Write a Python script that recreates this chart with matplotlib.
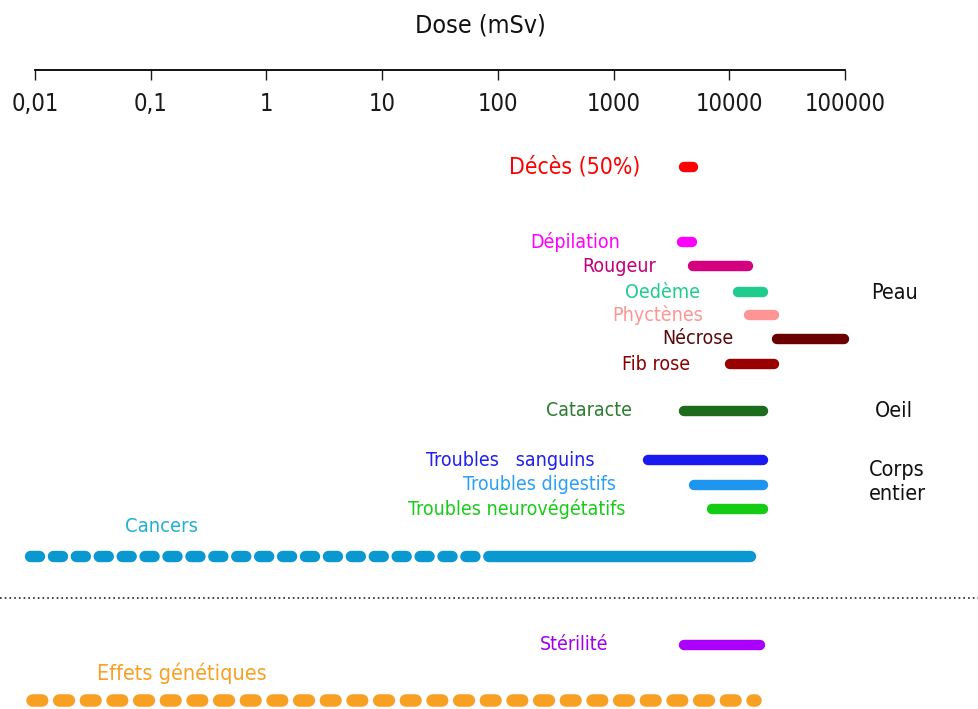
import matplotlib
matplotlib.use("Agg")
import matplotlib.pyplot as plt

plt.rcParams['font.family'] = ['DejaVu Sans']
plt.rcParams['font.stretch'] = 'condensed'
plt.rcParams['lines.scale_dashes'] = False

# ---------------- data ----------------
tick_values = [0.01, 0.1, 1, 10, 100, 1000, 10000, 100000]
tick_labels = ["0,01", "0,1", "1", "10", "100", "1000", "10000", "100000"]

effects = ["Décès (50%)", "Dépilation", "Rougeur", "Oedème", "Phyctènes",
           "Nécrose", "Fib rose", "Cataracte", "Troubles   sanguins",
           "Troubles digestifs", "Troubles neurovégétatifs", "Stérilité"]
dose_min = [4100, 3900, 4850, 11900, 14800, 26000, 10100, 4100, 2000, 5000, 7100, 4100]
dose_max = [4900, 4800, 14600, 19700, 24500, 99000, 24500, 19700, 19700, 19700, 19700, 18500]

cancer_uncertain = [0.009, 100]
cancer_certain = [100, 15200]
genetic_range = [0.0095, 16800]

groups = ["Peau", "Oeil", "Corps\nentier"]

# ---------------- styles / layout ----------------
W, H = 979, 709
bar_colors = ["#FF0000", "#FF00FF", "#D4007F", "#1FCC8E", "#FF9494",
              "#6B0000", "#990000", "#1D6B1D", "#1A1AF0", "#1E96F0",
              "#14CC14", "#AA00FF"]
text_colors = ["#FF0000", "#FF00FF", "#C2007A", "#1FCC8E", "#FF9494",
               "#5A0A0A", "#8B0000", "#2E7D32", "#2020F0", "#2CA0F5",
               "#1ACC1A", "#A000F0"]
row_y = [167, 242, 266, 292, 315, 339, 364, 411, 460, 485, 509, 645]
label_right = [640, 620, 656, 700, 703, 733, 690, 632, 595, 616, 625, 608]
label_size = [16.5, 14, 14, 14, 14, 14, 14, 14, 14, 14, 14, 14]
group_xy = [(895, 293), (894, 411), (897, 482)]

fig = plt.figure(figsize=(W / 100, H / 100), dpi=100)

x0, x1 = 35, 845
# scale axis (line at top with ticks and labels below)
sax = fig.add_axes([x0 / W, 1 - 70 / H, (x1 - x0) / W, 0.0001])
sax.set_xscale('log')
sax.set_xlim(tick_values[0], tick_values[-1])
for s in ['top', 'left', 'right']:
    sax.spines[s].set_visible(False)
sax.spines['bottom'].set_linewidth(1.3)
sax.set_yticks([])
sax.set_xticks(tick_values)
sax.set_xticklabels(tick_labels)
sax.xaxis.set_minor_locator(matplotlib.ticker.NullLocator())
sax.tick_params(axis='x', direction='out', length=7, width=1, pad=9,
                labelsize=17, colors='#1a1a1a')
fig.text(480 / W, 1 - 25 / H, "Dose (mSv)", ha='center', va='center',
         fontsize=18, color='#111111')

# main axes: y in pixel rows
ax = fig.add_axes([x0 / W, 0, (x1 - x0) / W, 1])
ax.set_xscale('log')
ax.set_xlim(tick_values[0], tick_values[-1])
ax.set_ylim(H, 0)
ax.axis('off')

for name, lo, hi, bc, tc, y, xr, fs in zip(effects, dose_min, dose_max, bar_colors,
                                            text_colors, row_y, label_right, label_size):
    ax.plot([lo, hi], [y, y], color=bc, lw=7.5, solid_capstyle='round', clip_on=False)
    fig.text(xr / W, 1 - y / H, name, ha='right', va='center', fontsize=fs, color=tc)

# Cancers
cy = 556
ax.plot(cancer_uncertain, [cy, cy], color="#0A98D0", lw=8.2, clip_on=False,
        dash_capstyle='round', linestyle=(0, (6.5, 10)))
ax.plot(cancer_certain, [cy, cy], color="#0A98D0", lw=8.2, clip_on=False,
        solid_capstyle='round')
fig.text(162 / W, 1 - 527 / H, "Cancers", ha='center', va='center',
         fontsize=14.5, color="#22B0D4")

# separator
fig.add_artist(matplotlib.lines.Line2D([0, 1], [1 - 598 / H, 1 - 598 / H],
                                       color='#333333', lw=1.3, linestyle=(0, (1.2, 2.2))))

# Effets génétiques
gy = 700
ax.plot(genetic_range, [gy, gy], color="#F7A023", lw=9, clip_on=False,
        dash_capstyle='round', linestyle=(0, (7, 12.2)))
fig.text(182 / W, 1 - 673 / H, "Effets génétiques", ha='center', va='center',
         fontsize=15.5, color="#F7A023")

for g, (gx, gyy) in zip(groups, group_xy):
    fig.text(gx / W, 1 - gyy / H, g, ha='center', va='center', fontsize=15.5,
             color='#111111', linespacing=1.3)

fig.savefig("out.png", dpi=100)
